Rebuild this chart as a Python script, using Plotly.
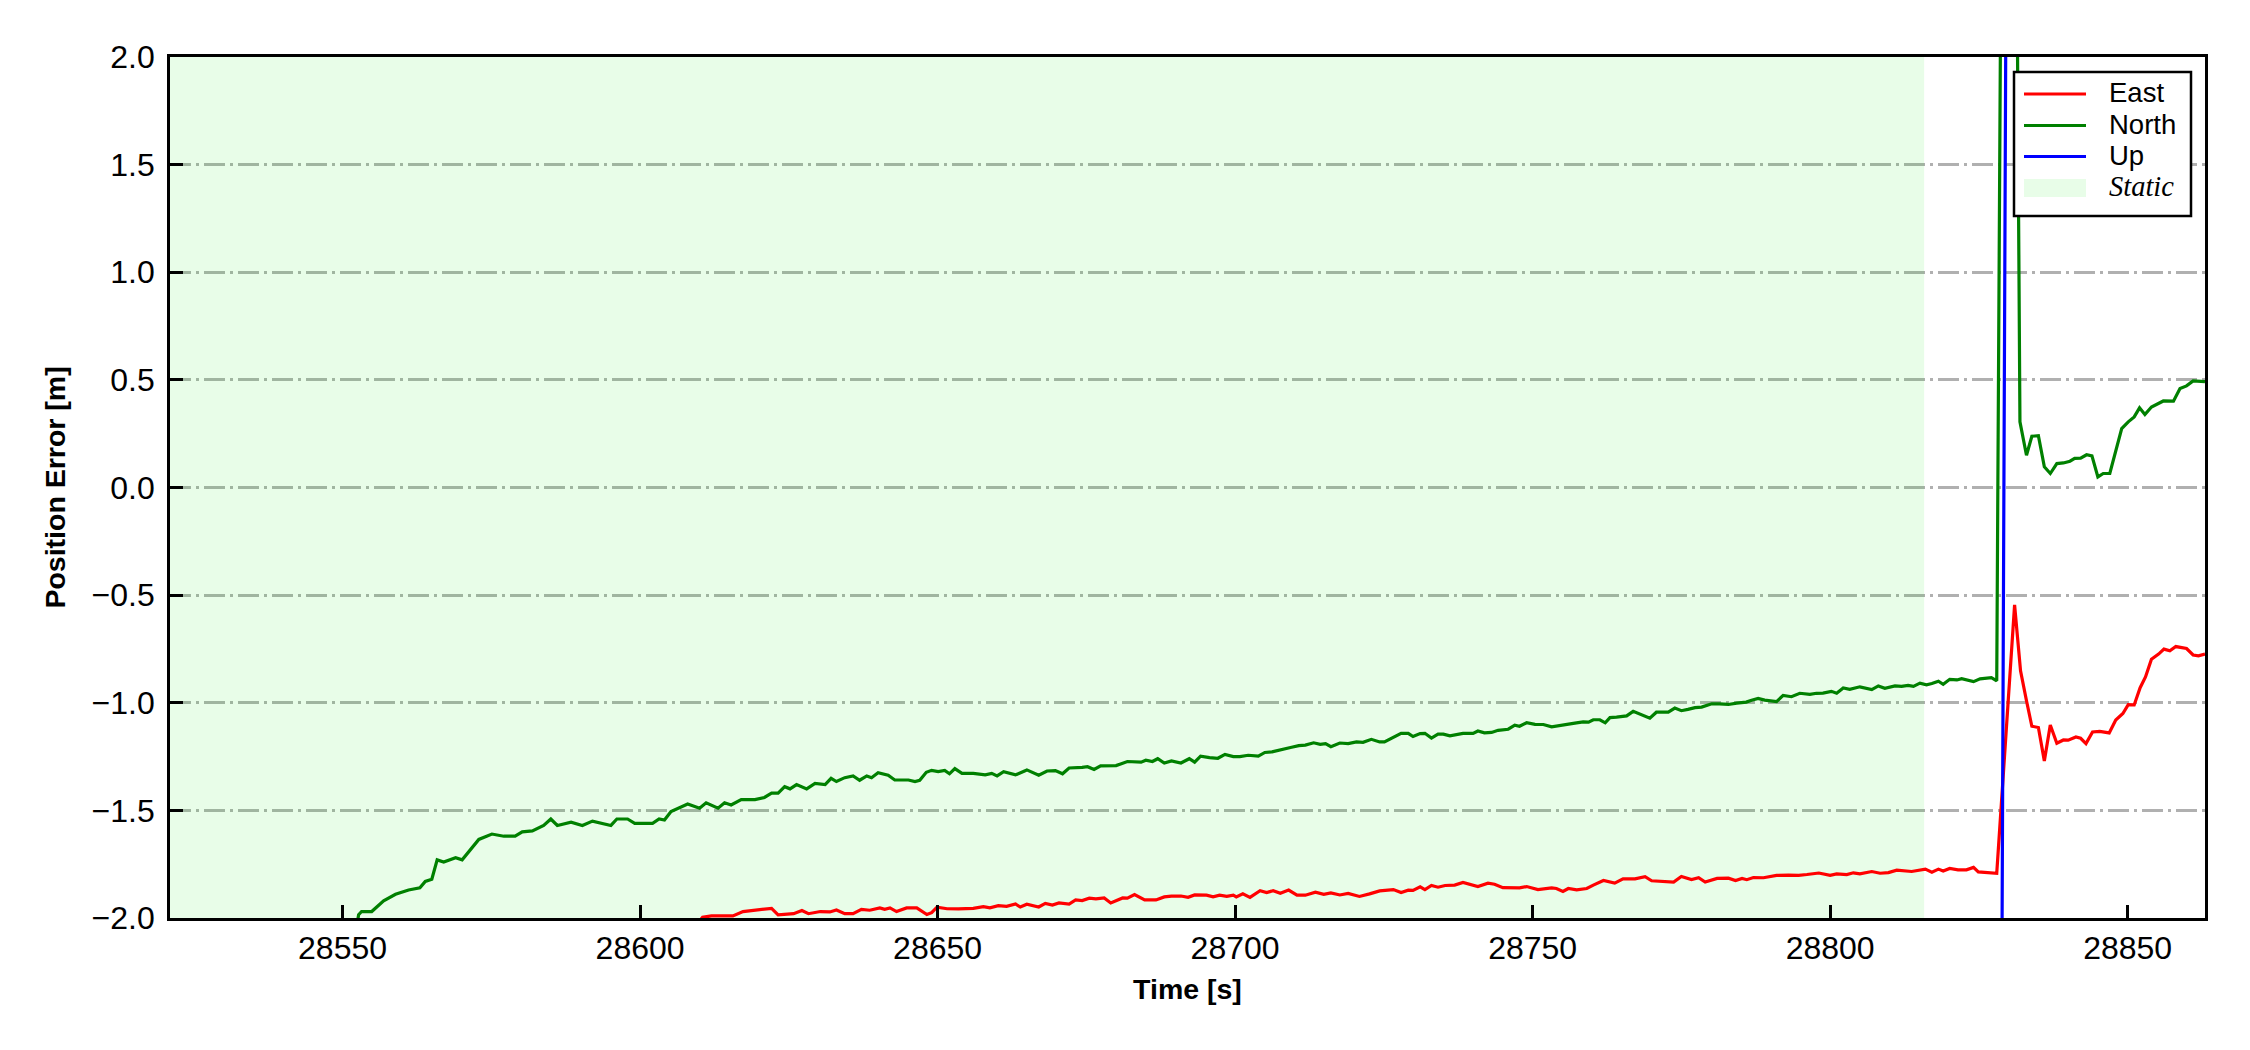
import plotly.graph_objects as go

# ---------------- data ----------------
north_t = [28521.0, 28552.0, 28552.7, 28553.2, 28554.9, 28556.9, 28558.9, 28561.1, 28563.0, 28563.9,
           28565.0, 28565.9, 28567.0, 28569.0, 28570.1, 28572.9, 28575.1, 28577.1, 28579.0, 28580.2,
           28581.9, 28583.8, 28585.0, 28586.1, 28588.4, 28590.3, 28592.0, 28595.1, 28596.1, 28597.9,
           28599.1, 28602.1, 28603.2, 28604.1, 28605.2, 28608.0, 28610.0, 28611.1, 28613.1, 28614.2,
           28615.3, 28617.0, 28619.3, 28620.9, 28622.1, 28623.2, 28624.3, 28625.2, 28626.3, 28628.0,
           28629.4, 28631.1, 28632.1, 28633.0, 28634.4, 28635.8, 28636.9, 28638.1, 28638.9, 28640.0,
           28641.7, 28642.8, 28645.1, 28646.2, 28647.0, 28648.1, 28649.0, 28650.1, 28651.2, 28652.0,
           28652.9, 28654.1, 28656.0, 28658.0, 28659.1, 28660.0, 28661.1, 28663.1, 28665.0, 28667.0,
           28668.4, 28669.8, 28671.0, 28672.1, 28674.3, 28675.2, 28676.3, 28677.4, 28680.0, 28681.9,
           28684.2, 28685.0, 28686.1, 28687.0, 28688.1, 28689.3, 28690.9, 28692.3, 28693.2, 28694.2,
           28695.7, 28697.1, 28698.3, 28699.7, 28700.8, 28702.2, 28703.9, 28705.0, 28706.2, 28707.3,
           28708.4, 28709.5, 28710.7, 28711.8, 28713.2, 28714.3, 28715.2, 28716.1, 28717.6, 28719.0,
           28720.4, 28721.5, 28722.9, 28724.3, 28725.1, 28726.6, 28727.9, 28729.1, 28729.9, 28731.1,
           28731.9, 28733.0, 28734.1, 28735.0, 28736.1, 28738.3, 28740.0, 28740.8, 28741.9, 28743.1,
           28744.2, 28745.9, 28747.0, 28747.8, 28749.0, 28750.4, 28751.8, 28753.2, 28754.6, 28755.7,
           28757.1, 28758.5, 28759.4, 28760.2, 28761.3, 28762.2, 28763.0, 28764.1, 28765.8, 28766.9,
           28768.3, 28769.7, 28770.8, 28772.8, 28773.9, 28775.0, 28776.1, 28777.3, 28778.4, 28780.1,
           28781.4, 28782.9, 28784.3, 28785.9, 28786.8, 28787.9, 28789.0, 28791.0, 28792.1, 28793.5,
           28794.9, 28796.6, 28797.7, 28798.8, 28800.2, 28801.1, 28802.2, 28803.3, 28805.0, 28807.0,
           28808.1, 28809.2, 28810.9, 28812.0, 28813.1, 28814.0, 28815.1, 28816.2, 28817.1, 28818.2,
           28819.0, 28820.1, 28821.3, 28822.1, 28824.1, 28825.2, 28827.1, 28828.0, 28829.0, 28830.0,
           28831.0, 28831.9, 28833.0, 28833.9, 28835.0, 28836.0, 28837.0, 28838.1, 28839.2, 28840.3,
           28841.1, 28842.1, 28843.1, 28844.0, 28845.0, 28845.9, 28847.0, 28849.0, 28850.1, 28851.1,
           28852.0, 28852.9, 28854.0, 28856.0, 28857.7, 28858.8, 28859.9, 28861.0, 28863.0]
north_v = [-3.2, -2.1, -1.985, -1.97, -1.97, -1.92, -1.89, -1.87, -1.86, -1.83,
           -1.82, -1.73, -1.74, -1.72, -1.73, -1.635, -1.61, -1.62, -1.62, -1.60,
           -1.595, -1.57, -1.54, -1.57, -1.555, -1.57, -1.55, -1.57, -1.54, -1.54,
           -1.56, -1.56, -1.54, -1.545, -1.505, -1.47, -1.49, -1.465, -1.49, -1.465,
           -1.475, -1.45, -1.45, -1.44, -1.42, -1.42, -1.39, -1.40, -1.38, -1.40,
           -1.375, -1.38, -1.351, -1.366, -1.348, -1.34, -1.36, -1.34, -1.348, -1.325,
           -1.337, -1.359, -1.359, -1.366, -1.36, -1.323, -1.314, -1.32, -1.314, -1.33,
           -1.306, -1.328, -1.328, -1.335, -1.328, -1.34, -1.32, -1.335, -1.312, -1.337,
           -1.317, -1.315, -1.33, -1.303, -1.30, -1.297, -1.31, -1.293, -1.292, -1.273,
           -1.276, -1.267, -1.273, -1.26, -1.28, -1.27, -1.28, -1.26, -1.276, -1.248,
           -1.255, -1.258, -1.24, -1.25, -1.25, -1.244, -1.248, -1.231, -1.228, -1.222,
           -1.214, -1.207, -1.199, -1.197, -1.186, -1.193, -1.19, -1.204, -1.187, -1.19,
           -1.182, -1.184, -1.17, -1.182, -1.182, -1.162, -1.142, -1.142, -1.157, -1.143,
           -1.142, -1.164, -1.146, -1.146, -1.154, -1.142, -1.142, -1.131, -1.14, -1.138,
           -1.128, -1.123, -1.104, -1.109, -1.093, -1.10, -1.101, -1.112, -1.107, -1.10,
           -1.095, -1.089, -1.09, -1.079, -1.079, -1.093, -1.069, -1.067, -1.061, -1.04,
           -1.058, -1.072, -1.044, -1.044, -1.025, -1.037, -1.031, -1.023, -1.02, -1.005,
           -1.005, -1.008, -1.002, -0.997, -0.988, -0.98, -0.988, -0.995, -0.966, -0.972,
           -0.956, -0.961, -0.956, -0.955, -0.947, -0.956, -0.931, -0.938, -0.926, -0.939,
           -0.922, -0.933, -0.922, -0.924, -0.919, -0.924, -0.909, -0.917, -0.911, -0.90,
           -0.914, -0.891, -0.894, -0.888, -0.902, -0.889, -0.883, -0.898, 3.9, 4.5,
           4.1, 0.305, 0.150, 0.238, 0.241, 0.096, 0.065, 0.111, 0.114, 0.122,
           0.135, 0.136, 0.152, 0.147, 0.049, 0.065, 0.065, 0.274, 0.305, 0.328,
           0.37, 0.339, 0.374, 0.402, 0.401, 0.46, 0.472, 0.495, 0.492]

east_t = [28521.0, 28609.5, 28610.5, 28612.0, 28613.9, 28615.6, 28617.3, 28619.3, 28622.1, 28623.2,
          28625.8, 28627.2, 28628.3, 28630.3, 28631.9, 28633.0, 28634.4, 28635.8, 28637.2, 28638.6,
          28640.3, 28641.1, 28642.0, 28643.1, 28644.8, 28646.5, 28647.3, 28648.2, 28649.0, 28649.9,
          28651.6, 28653.5, 28656.0, 28657.7, 28658.8, 28660.2, 28661.6, 28663.1, 28663.9, 28665.0,
          28667.0, 28668.1, 28669.3, 28670.4, 28672.1, 28673.2, 28674.3, 28675.5, 28676.6, 28678.0,
          28679.1, 28681.1, 28681.9, 28683.1, 28684.8, 28686.7, 28688.1, 28689.3, 28690.9, 28692.1,
          28693.2, 28695.2, 28696.3, 28697.4, 28698.6, 28699.7, 28700.2, 28701.3, 28702.5, 28704.2,
          28705.3, 28706.4, 28707.6, 28709.0, 28710.4, 28711.8, 28713.5, 28714.9, 28716.1, 28717.6,
          28719.0, 28720.9, 28722.6, 28724.3, 28726.6, 28727.9, 28729.1, 28729.9, 28731.1, 28731.9,
          28733.0, 28734.1, 28735.3, 28736.9, 28738.3, 28739.7, 28740.8, 28742.5, 28743.6, 28745.0,
          28746.4, 28747.8, 28749.0, 28750.9, 28753.2, 28754.0, 28755.1, 28756.0, 28757.4, 28759.1,
          28760.2, 28761.9, 28763.8, 28765.2, 28767.2, 28768.9, 28770.0, 28771.4, 28773.7, 28775.0,
          28776.7, 28777.9, 28779.0, 28781.0, 28782.9, 28784.1, 28785.2, 28786.0, 28787.1, 28788.8,
          28791.0, 28793.0, 28794.7, 28796.1, 28798.1, 28800.0, 28801.1, 28802.8, 28803.9, 28805.0,
          28807.0, 28808.4, 28809.8, 28811.2, 28813.7, 28816.0, 28817.1, 28818.2, 28819.0, 28820.1,
          28821.5, 28822.9, 28824.1, 28824.9, 28826.3, 28828.0, 28831.0, 28832.0, 28833.0, 28833.9,
          28835.0, 28836.0, 28837.0, 28838.1, 28839.2, 28840.0, 28841.3, 28842.1, 28843.0, 28844.1,
          28845.3, 28846.9, 28848.0, 28849.2, 28850.1, 28851.1, 28852.1, 28853.0, 28854.0, 28855.2,
          28856.1, 28857.1, 28858.1, 28859.9, 28861.0, 28861.9, 28863.0]
east_v = [-2.6, -2.03, -1.997, -1.99, -1.99, -1.99, -1.97, -1.965, -1.955, -1.985,
          -1.98, -1.965, -1.98, -1.97, -1.972, -1.963, -1.98, -1.98, -1.96, -1.964,
          -1.953, -1.96, -1.953, -1.97, -1.953, -1.953, -1.966, -1.984, -1.975, -1.95,
          -1.957, -1.958, -1.955, -1.947, -1.953, -1.943, -1.946, -1.935, -1.949, -1.936,
          -1.949, -1.932, -1.94, -1.93, -1.935, -1.916, -1.919, -1.908, -1.911, -1.907,
          -1.93, -1.907, -1.908, -1.891, -1.916, -1.916, -1.902, -1.898, -1.898, -1.904,
          -1.893, -1.894, -1.902, -1.894, -1.899, -1.894, -1.902, -1.888, -1.904, -1.873,
          -1.882, -1.873, -1.885, -1.87, -1.894, -1.894, -1.88, -1.89, -1.883, -1.893,
          -1.886, -1.90, -1.888, -1.874, -1.868, -1.882, -1.871, -1.872, -1.855, -1.868,
          -1.849, -1.857, -1.849, -1.847, -1.835, -1.847, -1.854, -1.838, -1.843, -1.859,
          -1.859, -1.86, -1.854, -1.868, -1.86, -1.863, -1.877, -1.863, -1.869, -1.863,
          -1.847, -1.826, -1.838, -1.818, -1.818, -1.808, -1.827, -1.829, -1.833, -1.807,
          -1.821, -1.813, -1.833, -1.816, -1.815, -1.826, -1.816, -1.822, -1.812, -1.813,
          -1.802, -1.801, -1.802, -1.798, -1.791, -1.802, -1.795, -1.798, -1.790, -1.795,
          -1.784, -1.792, -1.789, -1.778, -1.784, -1.773, -1.787, -1.773, -1.782, -1.77,
          -1.776, -1.776, -1.765, -1.786, -1.789, -1.792, -0.545, -0.852, -0.991, -1.109,
          -1.115, -1.27, -1.103, -1.188, -1.173, -1.174, -1.159, -1.165, -1.19, -1.136,
          -1.133, -1.14, -1.08, -1.05, -1.009, -1.01, -0.93, -0.88, -0.798, -0.774,
          -0.751, -0.759, -0.739, -0.748, -0.778, -0.782, -0.774]

up_t = [28521.0, 28828.0, 28830.0, 28863.0]
up_v = [-8.5, -8.0, 5.3, 6.0]

static_start = 28521.0
static_end = 28815.8

x_ticks = [28550, 28600, 28650, 28700, 28750, 28800, 28850]
x_ticklabels = ["28550", "28600", "28650", "28700", "28750", "28800", "28850"]
y_ticks = [-2.0, -1.5, -1.0, -0.5, 0.0, 0.5, 1.0, 1.5, 2.0]
y_ticklabels = ["\u22122.0", "\u22121.5", "\u22121.0", "\u22120.5", "0.0", "0.5", "1.0", "1.5", "2.0"]

x_range = [28521.0, 28863.0]
y_range = [-2.0, 2.0]

legend_names = ["East", "North", "Up", "Static"]
series_colors = ["#ff0000", "#008000", "#0000ff"]

# ---------------- figure ----------------
SANS = "Liberation Sans, Arial, sans-serif"
SERIF = "Liberation Serif, Times New Roman, serif"
STATIC_FILL = "rgba(0,230,0,0.09)"
LW = 3.2

# page is shown with the browser's 8 px body margin, so the figure is 16 px smaller
W, H = 2234, 1034
ML, MT, PW, PH = 162, 49, 2035, 861
MR, MB = W - ML - PW, H - MT - PH

fig = go.Figure()

fig.add_trace(go.Scatter(
    x=[static_start, static_start, static_end, static_end],
    y=[y_range[0] - 1, y_range[1] + 1, y_range[1] + 1, y_range[0] - 1],
    fill="toself", fillcolor=STATIC_FILL, mode="lines", name=legend_names[3],
    line=dict(width=0, color=STATIC_FILL), showlegend=False, hoverinfo="skip"))

for t, v, nm, col in [(east_t, east_v, legend_names[0], series_colors[0]),
                      (north_t, north_v, legend_names[1], series_colors[1]),
                      (up_t, up_v, legend_names[2], series_colors[2])]:
    fig.add_trace(go.Scatter(x=t, y=v, mode="lines", name=nm, showlegend=False,
                             line=dict(color=col, width=LW)))

# ---------------- hand-drawn legend (matplotlib style) ----------------
def px2paper_x(px):  # px measured inside the plot-area coordinate frame of the reference page
    return (px - 170.0) / PW


def px2paper_y(py):
    return (918.0 - py) / PH


shapes = []
annotations = []
shapes.append(dict(type="rect", xref="paper", yref="paper",
                   x0=px2paper_x(2014), x1=px2paper_x(2191),
                   y0=px2paper_y(216), y1=px2paper_y(72),
                   fillcolor="white", line=dict(color="black", width=2.5), layer="above"))
row_y = [94.0, 125.5, 156.5, 187.5]
for i, nm in enumerate(legend_names):
    yy = px2paper_y(row_y[i])
    if i < 3:
        shapes.append(dict(type="line", xref="paper", yref="paper",
                           x0=px2paper_x(2024), x1=px2paper_x(2086), y0=yy, y1=yy,
                           line=dict(color=series_colors[i], width=LW), layer="above"))
        txt = nm
        fnt = dict(family=SANS, size=27.5, color="black")
    else:
        shapes.append(dict(type="rect", xref="paper", yref="paper",
                           x0=px2paper_x(2024), x1=px2paper_x(2086),
                           y0=px2paper_y(197), y1=px2paper_y(179),
                           fillcolor=STATIC_FILL, line=dict(width=0), layer="above"))
        txt = "<i>" + nm + "</i>"
        fnt = dict(family=SERIF, size=28.5, color="black")
    annotations.append(dict(xref="paper", yref="paper", x=px2paper_x(2107), y=yy,
                            xanchor="left", yanchor="middle", text=txt, showarrow=False,
                            font=fnt, xshift=0, yshift=1))

fig.update_layout(
    width=W, height=H,
    margin=dict(l=ML, r=MR, t=MT, b=MB),
    paper_bgcolor="white", plot_bgcolor="white",
    font=dict(family=SANS, color="black", size=32),
    showlegend=False,
    shapes=shapes, annotations=annotations,
)

fig.update_xaxes(
    range=x_range, tickvals=x_ticks, ticktext=x_ticklabels,
    ticks="inside", ticklen=13, tickwidth=2.5, tickcolor="black",
    showline=True, linewidth=2.7, linecolor="black", mirror=True,
    showgrid=False, zeroline=False,
    tickfont=dict(family=SANS, size=32, color="black"),
    title=dict(text="<b>Time [s]</b>", font=dict(family=SANS, size=28.5, color="black"), standoff=14),
)
fig.update_yaxes(
    range=y_range, tickvals=y_ticks, ticktext=y_ticklabels,
    ticks="inside", ticklen=13, tickwidth=2.5, tickcolor="black",
    showline=True, linewidth=2.7, linecolor="black", mirror=True,
    showgrid=True, gridcolor="#b0b0b0", gridwidth=2.5, griddash="21px,5px,3px,5px",
    zeroline=False, ticklabelstandoff=6,
    tickfont=dict(family=SANS, size=32, color="black"),
    title=dict(text="<b>Position Error [m]</b>", font=dict(family=SANS, size=28.5, color="black"), standoff=18),
)

fig.write_html("out.html")
